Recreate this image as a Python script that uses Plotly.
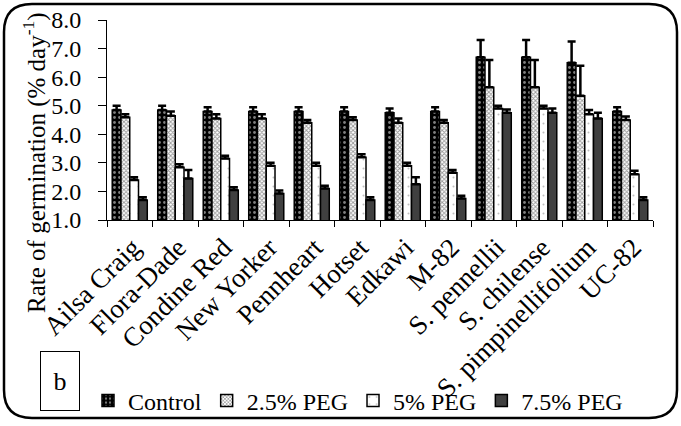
import plotly.graph_objects as go

categories = ["Ailsa Craig", "Flora-Dade", "Condine Red", "New Yorker", "Pennheart",
              "Hotset", "Edkawi", "M-82", "S. pennellii", "S. chilense",
              "S. pimpinellifolium", "UC-82"]

control = [4.85, 4.85, 4.8, 4.8, 4.8, 4.8, 4.75, 4.8, 6.7, 6.7, 6.5, 4.8]
control_err = [0.15, 0.15, 0.15, 0.15, 0.15, 0.15, 0.15, 0.15, 0.6, 0.6, 0.75, 0.15]
peg25 = [4.6, 4.65, 4.55, 4.55, 4.4, 4.5, 4.4, 4.4, 5.65, 5.65, 5.35, 4.5]
peg25_err = [0.1, 0.15, 0.15, 0.15, 0.1, 0.1, 0.15, 0.1, 0.95, 0.95, 1.05, 0.12]
peg5 = [2.4, 2.85, 3.15, 2.9, 2.9, 3.2, 2.9, 2.65, 4.9, 4.9, 4.7, 2.6]
peg5_err = [0.1, 0.1, 0.1, 0.1, 0.1, 0.1, 0.1, 0.1, 0.1, 0.1, 0.15, 0.12]
peg75 = [1.7, 2.45, 2.05, 1.93, 2.1, 1.7, 2.25, 1.75, 4.75, 4.75, 4.55, 1.7]
peg75_err = [0.1, 0.3, 0.1, 0.1, 0.1, 0.1, 0.25, 0.1, 0.12, 0.15, 0.2, 0.1]

series_names = ["Control", "2.5% PEG", "5% PEG", "7.5% PEG"]

FONT = "Liberation Serif"
WIDTH, HEIGHT = 681, 426
L, R, T, B = 107, 28, 20, 206
PW = WIDTH - L - R
PH = HEIGHT - T - B


def px_x(px):
    return (px - L) / PW


def px_y(py):
    return (HEIGHT - B - py) / PH


patterns = [
    dict(shape=".", fgcolor="white", bgcolor="black", size=5, solidity=0.25),
    dict(shape="x", fgcolor="#303030", bgcolor="white", size=3, solidity=0.5),
    dict(shape=".", fgcolor="#808080", bgcolor="white", size=9, solidity=0.04),
    None,
]
colors = ["black", "white", "white", "#404040"]

fig = go.Figure()
for name, vals, errs, pat, col in zip(series_names,
                                      [control, peg25, peg5, peg75],
                                      [control_err, peg25_err, peg5_err, peg75_err],
                                      patterns, colors):
    marker = dict(color=col, line=dict(color="black", width=1.5))
    if pat is not None:
        marker["pattern"] = pat
    fig.add_trace(go.Bar(
        x=categories, y=vals, name=name, marker=marker,
        error_y=dict(type="data", symmetric=False, array=errs,
                     arrayminus=[0] * len(errs), color="black",
                     thickness=2.5, width=4),
    ))

# rounded outer border
x0, y0, x1, y1, r = 4, 4, 677, 418, 28
def P(a, b):
    return f"{px_x(a):.5f},{px_y(b):.5f}"
path = (f"M{P(x0 + r, y0)} L{P(x1 - r, y0)} Q{P(x1, y0)} {P(x1, y0 + r)} "
        f"L{P(x1, y1 - r)} Q{P(x1, y1)} {P(x1 - r, y1)} "
        f"L{P(x0 + r, y1)} Q{P(x0, y1)} {P(x0, y1 - r)} "
        f"L{P(x0, y0 + r)} Q{P(x0, y0)} {P(x0 + r, y0)} Z")

fig.update_layout(
    width=WIDTH, height=HEIGHT,
    margin=dict(l=L, r=R, t=T, b=B, autoexpand=False),
    paper_bgcolor="white", plot_bgcolor="white",
    font=dict(family=FONT, size=22, color="black"),
    barmode="group", bargap=0.23, bargroupgap=0.0,
    showlegend=True,
    legend=dict(orientation="h", x=px_x(88), y=px_y(401), xanchor="left",
                yanchor="middle", font=dict(size=24, family=FONT),
                itemwidth=30, bgcolor="rgba(0,0,0,0)", tracegroupgap=0),
    shapes=[dict(type="path", path=path, xref="paper", yref="paper",
                 line=dict(color="black", width=2.5), layer="above")],
    annotations=[
        dict(text="Rate of germination (% day<sup>-1</sup>)", textangle=-90,
             x=px_x(34), y=px_y(163), xref="paper", yref="paper",
             showarrow=False, xanchor="center", yanchor="middle",
             font=dict(size=25, family=FONT)),
        dict(text="b", x=px_x(59.5), y=px_y(381), xref="paper", yref="paper",
             showarrow=False, xanchor="center", yanchor="middle",
             width=36, height=56, bordercolor="black", borderwidth=1,
             borderpad=1, font=dict(size=26, family=FONT)),
    ],
)
fig.update_xaxes(showline=True, linecolor="black", linewidth=1,
                 ticks="outside", tickson="boundaries", ticklen=6,
                 tickcolor="black", tickangle=-45, showgrid=False,
                 ticklabelshift=3, automargin=False,
                 tickfont=dict(size=27, family=FONT))
fig.update_yaxes(range=[1, 8], dtick=1, tick0=1, tickformat=".1f",
                 showline=True, linecolor="black", linewidth=1,
                 ticks="outside", ticklen=8, tickcolor="black",
                 showgrid=False, zeroline=False, ticklabelstandoff=12,
                 automargin=False,
                 tickfont=dict(size=24, family=FONT))

fig.write_html("out.html")
